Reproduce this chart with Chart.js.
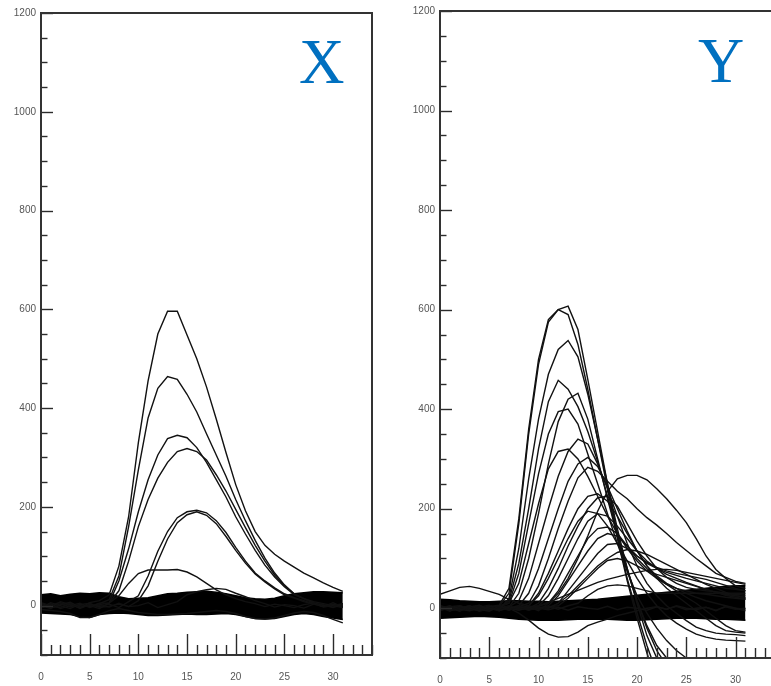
<!DOCTYPE html>
<html>
<head>
<meta charset="utf-8">
<script src="https://cdn.jsdelivr.net/npm/chart.js@4.4.0/dist/chart.umd.min.js"></script>
<style>
  html, body { margin: 0; padding: 0; background: #fff; width: 771px; height: 686px; overflow: hidden; }
  #wrap { position: relative; width: 771px; height: 686px; overflow: hidden; }
  canvas { position: absolute; top: 0; }
  #panelX { left: 0; width: 385px; height: 686px; }
  #panelY { left: 400px; width: 390px; height: 686px; }
</style>
</head>
<body>
<div id="wrap">
  <canvas id="panelX" width="385" height="686"></canvas>
  <canvas id="panelY" width="390" height="686"></canvas>
</div>
<script>
// sample index shared by every trace
const frames = [0,1,2,3,4,5,6,7,8,9,10,11,12,13,14,15,16,17,18,19,20,21,22,23,24,25,26,27,28,29,30,31];

// axis tick labels
const xTickLabels = [0, 5, 10, 15, 20, 25, 30];
const yTickLabels = [0, 200, 400, 600, 800, 1000, 1200];
const panelNames = ['X', 'Y'];

// ---- panel X traces ----
const xA = [5,-3,8,2,-5,6,10,22,80,180,330,455,550,596,596,548,500,443,378,310,245,192,150,122,104,90,78,66,56,46,37,29];
const xB = [-4,6,0,-6,3,-2,4,12,60,160,275,380,440,464,458,428,392,348,305,262,215,172,132,96,66,42,24,14,8,4,0,-4];
const xC = [3,-5,2,7,-3,0,-6,5,50,115,190,255,305,338,345,340,320,290,255,220,180,145,112,82,58,38,22,14,6,0,3,-2];
const xD = [-2,4,-6,0,5,-4,2,5,30,90,160,215,258,290,312,318,312,295,265,232,195,158,122,90,62,40,24,14,5,2,-3,4];
const xE = [6,0,-3,4,-6,2,-2,3,-4,8,20,60,110,150,178,190,193,188,172,148,118,90,66,50,36,24,16,10,4,-2,2,0];
const xF = [0,-6,4,-2,2,5,-4,-1,3,-2,10,40,90,135,168,184,190,183,166,140,112,86,64,48,34,22,15,8,3,1,-4,2];
const xG = [-5,2,6,-3,0,-2,5,5,20,45,65,72,72,72,73,68,58,45,32,22,14,8,4,-2,3,0,-4,2,5,-3,0,4];
const xH = [4,-2,-4,5,-5,3,0,-3,5,-2,0,6,-4,2,8,22,28,32,35,33,25,18,10,4,-3,2,0,-5,3,-2,6,-3];
const xLow = [-8,-10,-12,-16,-24,-24,-18,-10,-6,-10,-14,-16,-18,-18,-17,-16,-14,-12,-10,-12,-16,-22,-26,-27,-25,-20,-15,-12,-14,-20,-28,-35];
const xBandTop = [22,24,20,23,25,24,26,25,18,14,15,16,20,24,25,27,28,29,27,24,20,16,14,13,15,20,24,26,28,28,27,26];
const xBandBottom = [-15,-16,-17,-18,-22,-24,-18,-16,-15,-16,-18,-20,-20,-19,-18,-17,-18,-18,-17,-16,-18,-22,-26,-27,-26,-22,-18,-16,-18,-22,-25,-28];

// ---- panel Y traces ----
const y01 = [2,-3,4,0,-5,3,6,40,180,360,500,580,600,607,560,460,355,250,150,60,-10,-75,-130,-160,-175,-180,-180,-180,-180,-180,-180,-180];
const y02 = [-4,2,0,5,-2,-6,4,30,170,350,490,575,600,590,530,440,340,240,140,55,-20,-90,-150,-180,-190,-190,-190,-190,-190,-190,-190,-190];
const y03 = [0,4,-2,-5,3,0,-3,20,120,260,380,470,520,538,505,430,340,250,160,80,10,-55,-100,-130,-150,-160,-165,-165,-165,-165,-165,-165];
const y04 = [5,0,-4,2,6,-2,0,15,90,200,320,415,458,440,405,355,295,225,150,80,15,-40,-85,-115,-130,-140,-145,-145,-145,-145,-145,-145];
const y05 = [-2,3,5,-3,0,4,-5,2,30,100,190,290,375,420,432,380,300,220,145,75,15,-35,-75,-100,-115,-125,-130,-130,-130,-130,-130,-130];
const y06 = [3,-5,0,4,-3,2,5,10,70,170,270,350,395,400,370,310,250,190,130,75,25,-10,-40,-65,-85,-100,-115,-125,-130,-130,-130,-130];
const y07 = [0,2,-6,3,5,-4,1,3,15,60,130,200,265,315,340,330,290,240,185,130,85,50,25,5,-10,-25,-38,-45,-50,-52,-53,-55];
const y08 = [-3,0,4,-2,-4,5,2,10,50,130,210,280,315,320,300,265,225,185,150,120,95,75,60,48,40,35,30,28,25,22,20,18];
const y09 = [4,-2,2,-5,0,3,-3,0,5,30,80,140,200,255,290,303,285,245,200,155,115,85,65,50,40,30,22,15,10,5,0,-5];
const y10 = [-5,3,-2,0,6,-4,2,0,3,10,45,100,160,215,262,283,275,255,235,220,200,182,167,150,132,116,100,85,70,62,54,50];
const y11 = [2,-4,5,0,-2,4,-5,3,0,5,30,70,115,160,200,225,230,215,185,150,115,85,60,40,25,10,-5,-20,-35,-45,-48,-50];
const y12 = [0,5,-3,2,-6,0,4,-2,3,0,10,40,80,125,165,200,222,225,205,170,135,105,80,62,50,42,38,35,33,30,28,26];
const y13 = [-2,0,3,-4,2,6,-3,0,-4,2,5,25,60,100,140,175,190,185,165,140,115,95,80,68,60,52,45,38,32,28,25,22];
const y14 = [3,-3,0,5,-5,2,0,-3,2,-2,4,10,35,70,105,140,160,163,150,125,105,90,80,72,66,60,55,50,45,40,38,35];
const y15 = [-4,4,-2,0,3,-3,5,2,-2,3,0,5,25,55,85,115,140,150,145,125,100,80,62,48,35,22,10,-5,-20,-35,-45,-48];
const y16 = [0,-2,5,-3,0,4,-4,3,0,-3,2,0,10,35,60,85,110,128,130,120,105,92,82,75,70,66,62,58,52,46,40,35];
const y17 = [5,-5,2,3,-2,0,3,-4,4,0,-2,3,5,20,40,60,80,96,100,95,85,75,68,62,56,50,44,38,32,26,22,18];
const y18 = [-3,2,0,-4,4,-2,0,5,-3,2,5,12,20,28,36,44,52,58,63,68,72,76,78,78,76,72,68,64,60,56,52,48];
const y19 = [2,-6,3,0,-3,5,-2,0,3,-4,2,0,10,25,45,65,85,100,112,118,115,108,98,88,78,68,58,48,40,32,26,20];
const y20 = [0,3,-4,2,0,-3,4,-2,0,3,-5,10,30,60,100,145,195,235,260,267,267,258,240,220,197,172,140,105,78,60,45,40];
const y21 = [-4,0,2,-2,5,0,-5,4,-2,5,25,60,100,140,175,195,190,165,130,95,60,30,5,-15,-30,-42,-52,-58,-62,-64,-65,-66];
const y22 = [3,-2,-5,4,0,-4,2,0,5,-3,0,4,-2,5,10,25,38,45,47,45,40,35,30,30,30,30,30,30,30,30,30,30];
const yBump = [28,35,42,44,40,34,28,18,10,5,0,-3,2,-4,3,0,-2,4,-3,2,0,-4,3,-2,5,0,-3,2,-5,4,0,-2];
const yDip = [2,-3,0,4,-2,3,-4,0,-10,-24,-40,-52,-58,-57,-48,-35,-28,-22,-15,-10,-5,0,3,-2,4,-3,0,2,-4,3,-2,0];
const yBandTop = [18,17,15,14,13,13,14,15,15,14,14,13,14,15,16,17,18,20,22,24,26,28,30,32,34,36,38,40,42,44,45,45];
const yBandBottom = [-20,-19,-18,-17,-16,-17,-18,-20,-22,-23,-24,-24,-24,-23,-22,-22,-22,-22,-23,-24,-24,-23,-22,-21,-20,-20,-20,-21,-22,-22,-23,-24];

const panelXTraces = [xA, xB, xC, xD, xE, xF, xG, xH, xLow];
const panelYTraces = [y01, y02, y03, y04, y05, y06, y07, y08, y09, y10, y11, y12, y13, y14, y15, y16, y17, y18, y19, y20, y21, y22, yBump, yDip];

function points(values) {
  return frames.map((f, i) => ({ x: f, y: values[i] }));
}

// frame, inward tick marks and the panel letter
const panelDecor = {
  id: 'panelDecor',
  afterDatasetsDraw(chart, args, opts) {
    const { ctx, chartArea: a } = chart;
    const xs = chart.scales.x, ys = chart.scales.y;
    ctx.save();
    ctx.strokeStyle = '#2b2b2b';
    ctx.lineWidth = 1.4;
    for (let v = 0; v <= 34; v++) {
      const px = Math.round(xs.getPixelForValue(v)) + 0.5;
      const len = v % 5 === 0 ? 21 : 10;
      ctx.beginPath();
      ctx.moveTo(px, a.bottom);
      ctx.lineTo(px, a.bottom - len);
      ctx.stroke();
    }
    for (let v = -100; v <= 1200; v += 50) {
      const py = Math.round(ys.getPixelForValue(v)) + 0.5;
      const len = v % 200 === 0 ? 12 : 6.5;
      ctx.beginPath();
      ctx.moveTo(a.left, py);
      ctx.lineTo(a.left + len, py);
      ctx.stroke();
    }
    ctx.lineWidth = 2;
    ctx.strokeStyle = '#333';
    ctx.strokeRect(a.left, a.top, a.right - a.left, a.bottom - a.top);
    ctx.fillStyle = '#0070C0';
    ctx.font = opts.nameSize + 'px "Liberation Serif", "Times New Roman", serif';
    ctx.textAlign = 'left';
    ctx.textBaseline = 'alphabetic';
    ctx.fillText(opts.name, opts.nameX, opts.nameY);
    ctx.restore();
  }
};

function makePanel(canvasId, name, traces, bandTop, bandBottom, g) {
  const datasets = traces.map(t => ({
    data: points(t),
    borderColor: '#111',
    borderWidth: 1.4,
    pointRadius: 0,
    tension: 0,
    fill: false
  }));
  datasets.push({ data: points(bandTop), borderColor: '#000', borderWidth: 1.5, pointRadius: 0, tension: 0, fill: false });
  datasets.push({ data: points(bandBottom), borderColor: '#000', borderWidth: 1.5, pointRadius: 0, tension: 0, fill: '-1', backgroundColor: '#000' });

  const tickFont = { family: '"Liberation Sans", Arial, sans-serif', size: 10 };
  const plain = v => String(v);
  return new Chart(document.getElementById(canvasId), {
    type: 'line',
    data: { datasets },
    options: {
      responsive: false,
      animation: false,
      events: [],
      layout: { padding: { top: g.top, right: g.right, bottom: 0, left: 0 } },
      plugins: {
        legend: { display: false },
        tooltip: { enabled: false },
        panelDecor: { name, nameX: g.nameX, nameY: g.nameY, nameSize: g.nameSize }
      },
      scales: {
        x: {
          type: 'linear', min: 0, max: 34,
          afterBuildTicks: s => { s.ticks = xTickLabels.map(v => ({ value: v })); },
          afterFit: s => { s.height = g.xAxisH; },
          grid: { display: false, drawTicks: false },
          border: { display: false },
          ticks: { font: tickFont, color: '#555', padding: 16, maxRotation: 0, autoSkip: false, callback: plain }
        },
        y: {
          type: 'linear', min: -100, max: 1200,
          afterBuildTicks: s => { s.ticks = yTickLabels.map(v => ({ value: v })); },
          afterFit: s => { s.width = g.yAxisW; },
          grid: { display: false, drawTicks: false },
          border: { display: false },
          ticks: { font: tickFont, color: '#555', padding: 5, callback: plain }
        }
      }
    },
    plugins: [panelDecor]
  });
}

makePanel('panelX', panelNames[0], panelXTraces, xBandTop, xBandBottom,
  { top: 13, right: 13, xAxisH: 31, yAxisW: 41, nameX: 299, nameY: 83, nameSize: 63 });
makePanel('panelY', panelNames[1], panelYTraces, yBandTop, yBandBottom,
  { top: 10, right: 15, xAxisH: 28, yAxisW: 40, nameX: 298, nameY: 82, nameSize: 64 });
</script>
</body>
</html>
